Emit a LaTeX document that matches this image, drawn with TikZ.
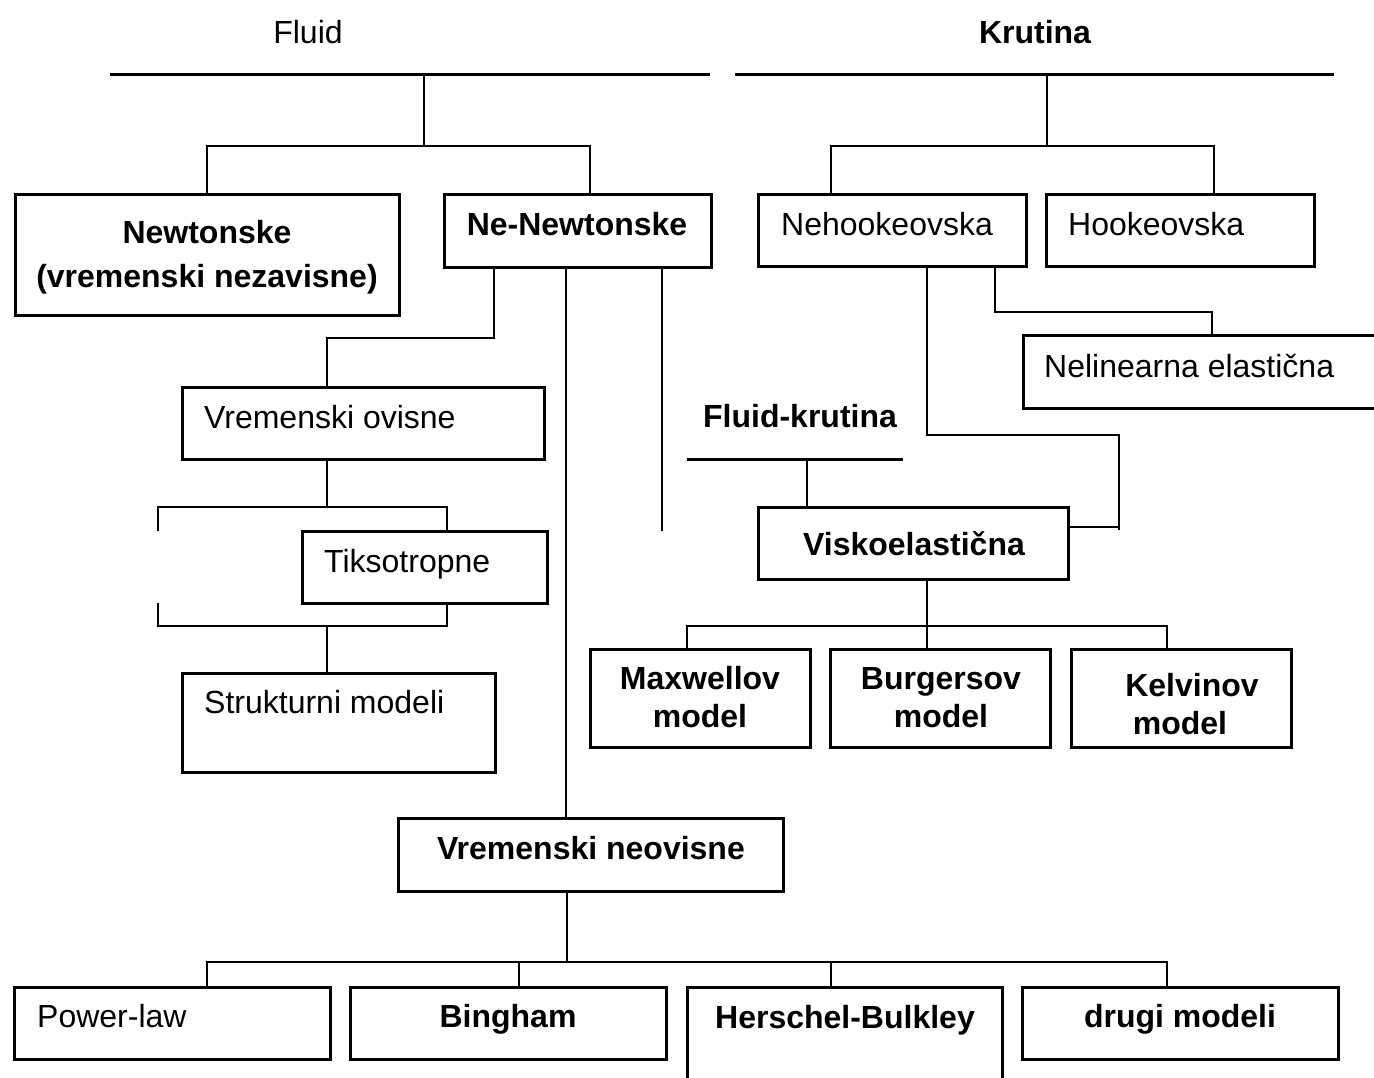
\documentclass[tikz,border=0pt]{standalone}
\usepackage{fontspec}
\setmainfont{Liberation Sans}
\begin{document}
\begin{tikzpicture}[x=1pt,y=-1pt,
  box/.style={draw, line width=3pt, inner sep=0pt, outer sep=0pt, anchor=north west},
  conn/.style={line width=2.5pt},
  bar/.style={line width=3pt},
  txt/.style={inner sep=0pt, font=\fontsize{32}{38}\selectfont},
  btxt/.style={inner sep=0pt, font=\fontsize{32}{38}\selectfont\bfseries},
]
\useasboundingbox (0,0) rectangle (1374,1077);
\clip (0,0) rectangle (1374,1077);

% boxes
\node[box, minimum width=384pt, minimum height=121pt] (newt)   at (15,194)  {};
\node[box, minimum width=267pt, minimum height=73pt]  (nenewt) at (444,194) {};
\node[box, minimum width=268pt, minimum height=72pt]  (nehook) at (758,194) {};
\node[box, minimum width=268pt, minimum height=72pt]  (hook)   at (1046,194) {};
\node[box, minimum width=380pt, minimum height=73pt]  (nelin)  at (1023,335) {};
\node[box, minimum width=362pt, minimum height=72pt]  (vov)    at (182,387) {};
\node[box, minimum width=245pt, minimum height=72pt]  (tiks)   at (302,531) {};
\node[box, minimum width=313pt, minimum height=99pt]  (strukt) at (182,673) {};
\node[box, minimum width=310pt, minimum height=72pt]  (visko)  at (758,507) {};
\node[box, minimum width=220pt, minimum height=98pt]  (maxw)   at (590,649) {};
\node[box, minimum width=220pt, minimum height=98pt]  (burg)   at (830,649) {};
\node[box, minimum width=220pt, minimum height=98pt]  (kelv)   at (1071,649) {};
\node[box, minimum width=385pt, minimum height=73pt]  (vneo)   at (398,818) {};
\node[box, minimum width=316pt, minimum height=72pt]  (power)  at (14,987) {};
\node[box, minimum width=316pt, minimum height=72pt]  (bing)   at (350,987) {};
\node[box, minimum width=315pt, minimum height=120pt] (hb)     at (687,987) {};
\node[box, minimum width=316pt, minimum height=72pt]  (drugi)  at (1022,987) {};

% texts
\node[txt, anchor=base] (tFluid) at (308,43) {Fluid};
\node[btxt, anchor=base] (tKrut) at (1035,43) {Krutina};
\node[btxt, anchor=base, align=center] (tNewt) at (207,287) {Newtonske\\[6pt](vremenski nezavisne)};
\node[btxt, anchor=base] (tNeN) at (577,235) {Ne-Newtonske};
\node[txt, anchor=base west] (tNehook) at (781,235) {Nehookeovska};
\node[txt, anchor=base west] (tHook) at (1068,235) {Hookeovska};
\node[txt, anchor=base west] (tNelin) at (1044,377) {Nelinearna elastična};
\node[txt, anchor=base west] (tVov) at (204,428) {Vremenski ovisne};
\node[txt, anchor=base west] (tTiks) at (324,572) {Tiksotropne};
\node[txt, anchor=base west] (tStrukt) at (204,713) {Strukturni modeli};
\node[btxt, anchor=base] (tFK) at (800,427) {Fluid-krutina};
\node[btxt, anchor=base] (tVisko) at (914,555) {Viskoelastična};
\node[btxt, anchor=base, align=center] (tMaxw) at (700,727) {Maxwellov\\model};
\node[btxt, anchor=base, align=center] (tBurg) at (941,727) {Burgersov\\model};
\node[btxt, anchor=base, align=center] (tKelv) at (1180,734) {\hspace*{24pt}Kelvinov\\model};
\node[btxt, anchor=base] (tVneo) at (591,859) {Vremenski neovisne};
\node[txt, anchor=base west] (tPower) at (37,1027) {Power-law};
\node[btxt, anchor=base] (tBing) at (508,1027) {Bingham};
\node[btxt, anchor=base] (tHB) at (845,1028) {Herschel-Bulkley};
\node[btxt, anchor=base] (tDrugi) at (1180,1027) {drugi modeli};

% Fluid tree
\coordinate (fA) at (110,74); \coordinate (fB) at (710,74);
\coordinate (fS) at (424,74); \coordinate (fJ) at (424,146);
\coordinate (fL) at (207,146); \coordinate (fR) at (590,146);
\draw[bar] (fA) -- (fB);
\draw[conn] (fS) -- (fJ);
\draw[conn] (fL |- newt.north) -- (fL) -- (fR) -- (fR |- nenewt.north);

% Krutina tree
\coordinate (kA) at (735,74); \coordinate (kB) at (1334,74);
\coordinate (kS) at (1047,74); \coordinate (kJ) at (1047,146);
\coordinate (kL) at (831,146); \coordinate (kR) at (1214,146);
\draw[bar] (kA) -- (kB);
\draw[conn] (kS) -- (kJ);
\draw[conn] (kL |- nehook.north) -- (kL) -- (kR) -- (kR |- hook.north);

% Ne-Newtonske branches
\coordinate (n1) at (494,338); \coordinate (n1b) at (327,338);
\draw[conn] (n1 |- nenewt.south) -- (n1) -- (n1b) -- (n1b |- vov.north);
\coordinate (n2) at (566,500);
\draw[conn] (n2 |- nenewt.south) -- (n2 |- vneo.north);
\coordinate (n3) at (662,531);
\draw[conn] (n3 |- nenewt.south) -- (n3);

% time dependent bracket
\coordinate (bT) at (327,507);
\draw[conn] (bT |- vov.south) -- (bT);
\coordinate (bTL) at (158,507); \coordinate (bTLe) at (158,531); \coordinate (bTR) at (447,507);
\draw[conn] (bTLe) -- (bTL) -- (bTR) -- (bTR |- tiks.north);
\coordinate (bBL) at (158,626); \coordinate (bBLe) at (158,603); \coordinate (bBR) at (447,626);
\coordinate (bB) at (327,626);
\draw[conn] (bBLe) -- (bBL) -- (bBR) -- (bBR |- tiks.south);
\draw[conn] (bB) -- (bB |- strukt.north);

% Nehookeovska branches
\coordinate (h1) at (927,435); \coordinate (h1r) at (1119,435); \coordinate (h1e) at (1119,530);
\draw[conn] (h1 |- nehook.south) -- (h1) -- (h1r) -- (h1e);
\coordinate (vr) at (1119,527);
\draw[conn] (visko.east |- vr) -- (vr);
\coordinate (h2) at (995,312); \coordinate (h2r) at (1212,312);
\draw[conn] (h2 |- nehook.south) -- (h2) -- (h2r) -- (h2r |- nelin.north);

% Fluid-krutina
\coordinate (fkA) at (687,459); \coordinate (fkB) at (903,459); \coordinate (fkS) at (807,459);
\draw[bar] (fkA) -- (fkB);
\draw[conn] (fkS) -- (fkS |- visko.north);

% Viskoelasticna children
\coordinate (vJ) at (927,626); \coordinate (vL) at (687,626); \coordinate (vR) at (1167,626);
\draw[conn] (vJ |- visko.south) -- (vJ) -- (vJ |- burg.north);
\draw[conn] (vL |- maxw.north) -- (vL) -- (vR) -- (vR |- kelv.north);

% Vremenski neovisne children
\coordinate (wJ) at (567,962); \coordinate (wL) at (207,962); \coordinate (wR) at (1167,962);
\coordinate (w2) at (519,962); \coordinate (w3) at (831,962);
\draw[conn] (wJ |- vneo.south) -- (wJ);
\draw[conn] (wL |- power.north) -- (wL) -- (wR) -- (wR |- drugi.north);
\draw[conn] (w2) -- (w2 |- bing.north);
\draw[conn] (w3) -- (w3 |- hb.north);
\end{tikzpicture}
\end{document}
